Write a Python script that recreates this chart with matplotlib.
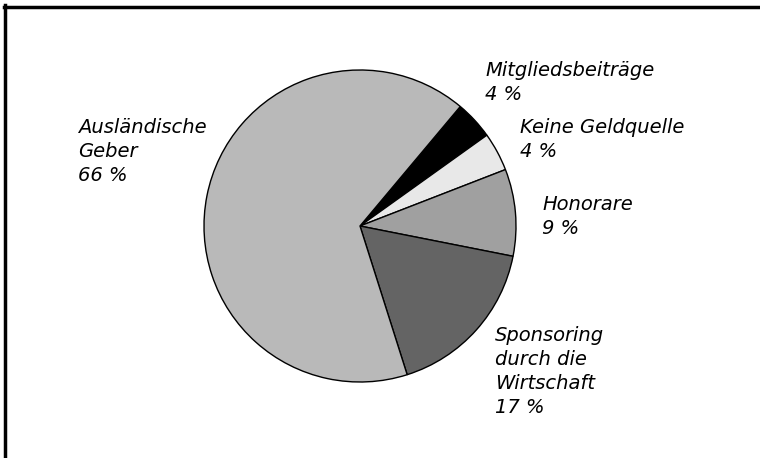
import matplotlib.pyplot as plt
from matplotlib.lines import Line2D

# Data
labels = ["Mitgliedsbeiträge", "Keine Geldquelle", "Honorare",
          "Sponsoring\ndurch die\nWirtschaft", "Ausländische\nGeber"]
values = [4, 4, 9, 17, 66]
colors = ["#000000", "#e8e8e8", "#a0a0a0", "#646464", "#b9b9b9"]

W, H = 760, 458
fig = plt.figure(figsize=(W / 100, H / 100), dpi=100)

# pie axes: centre ~ (360, 226) px, radius ~156 px
ax = fig.add_axes([204 / W, (H - 382) / H, 312 / W, 312 / H])
wedges, _ = ax.pie(values, colors=colors, startangle=50, counterclock=False,
                   wedgeprops=dict(edgecolor="black", linewidth=1.0))
for w in wedges:
    w.set_clip_on(False)
ax.set_xlim(-1, 1)
ax.set_ylim(-1, 1)
ax.set_aspect("equal")
ax.axis("off")

# label text positions (top-left in px)
label_pos = [(485, 61), (520, 118), (542, 195), (495, 326), (78, 118)]
for lab, val, (x, y) in zip(labels, values, label_pos):
    fig.text(x / W, 1 - y / H, f"{lab}\n{val} %", ha="left", va="top",
             fontsize=14, fontstyle="italic", family="DejaVu Sans",
             linespacing=1.33)

# frame: top and left edges only
fig.add_artist(Line2D([4 / W, 1], [1 - 6.5 / H, 1 - 6.5 / H],
                      transform=fig.transFigure, color="black", lw=2.5))
fig.add_artist(Line2D([4.5 / W, 4.5 / W], [0, 1 - 5 / H],
                      transform=fig.transFigure, color="black", lw=2.5))

fig.savefig("out.png", dpi=100)
